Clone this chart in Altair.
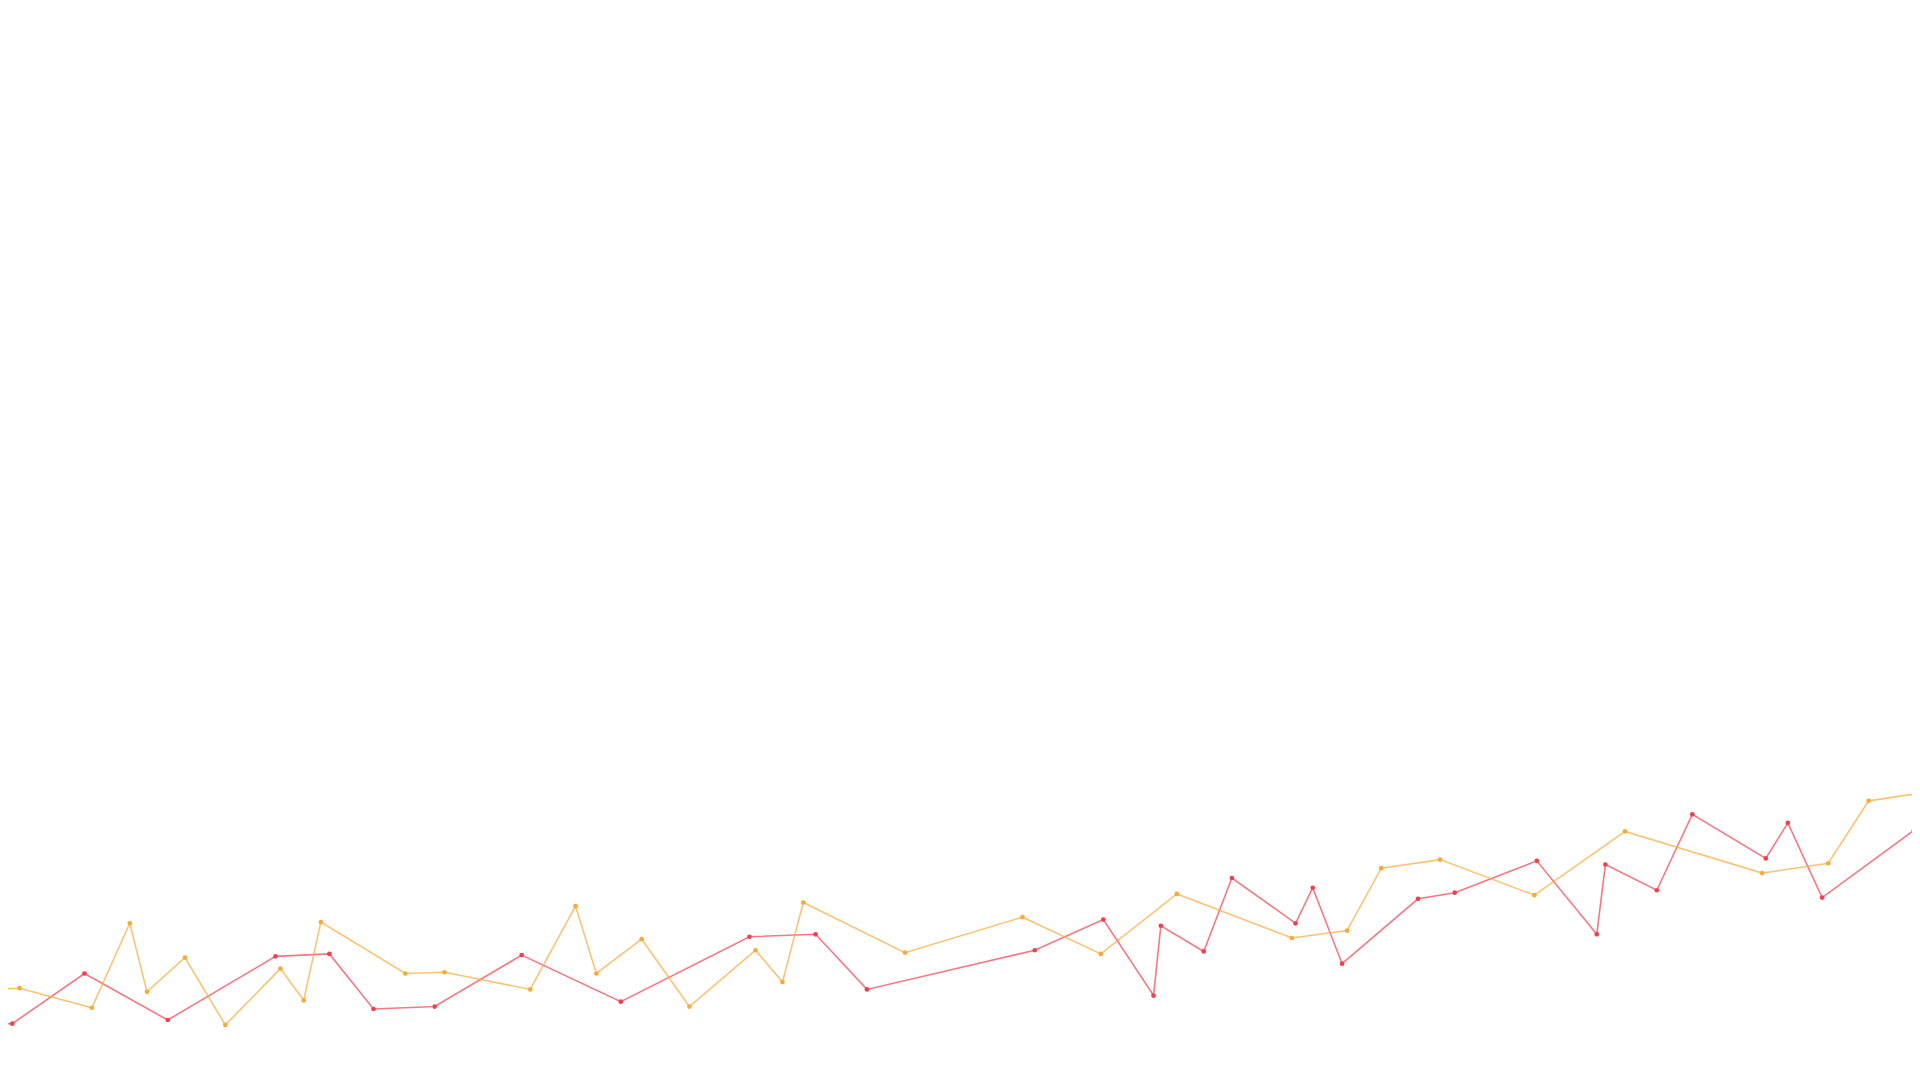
import altair as alt
import pandas as pd

# 読み取った値（x は時間の位置、y は値）
red_x = [-5, 10, 69, 137, 225, 269, 305, 355, 426, 507, 612, 666, 708, 845, 901, 942, 948, 983, 1006, 1058, 1072, 1096, 1158, 1188, 1255, 1304, 1311, 1353, 1382, 1442, 1460, 1488, 1563, 1600]
red_y = [836, 836, 795, 833, 781, 779, 824, 822, 780, 818, 765, 763, 808, 776, 751, 813, 756, 777, 717, 754, 725, 787, 734, 729, 703, 763, 706, 727, 665, 701, 672, 733, 678, 652]
orange_x = [-5, 16, 75, 106, 120, 151, 184, 229, 248, 262, 331, 363, 433, 470, 487, 524, 563, 617, 639, 656, 739, 835, 899, 961, 1055, 1100, 1128, 1176, 1253, 1327, 1439, 1493, 1526, 1600]
orange_y = [808, 807, 823, 754, 810, 782, 837, 791, 817, 753, 795, 794, 808, 740, 795, 767, 822, 776, 802, 737, 778, 749, 779, 730, 766, 760, 709, 702, 731, 679, 713, 705, 654, 643]

BASE = 880
df = pd.concat([
    pd.DataFrame({'t': red_x, 'v': [BASE - y for y in red_y], 's': 'red'}),
    pd.DataFrame({'t': orange_x, 'v': [BASE - y for y in orange_y], 's': 'orange'}),
])

x_axis = alt.X('t:Q', scale=alt.Scale(domain=[6.53, 1561.4], nice=False, zero=False), axis=None)
y_axis = alt.Y('v:Q', scale=alt.Scale(domain=[4.55, 873.5], nice=False, zero=False), axis=None)
color = alt.Color('s:N', legend=None, scale=alt.Scale(domain=['red', 'orange'], range=['#f0404e', '#f9a93a']))

lines = alt.Chart(df).mark_line(strokeWidth=1.6, opacity=0.7, clip=True).encode(x=x_axis, y=y_axis, color=color, detail='s:N')
points = alt.Chart(df).mark_circle(size=22, opacity=1, clip=True).encode(x=x_axis, y=y_axis, color=color)

chart = (lines + points).properties(width=1904, height=1064, padding=0, autosize='none').configure_view(stroke=None)
chart.save("out.html", embed_options={"renderer": "svg", "actions": False})
